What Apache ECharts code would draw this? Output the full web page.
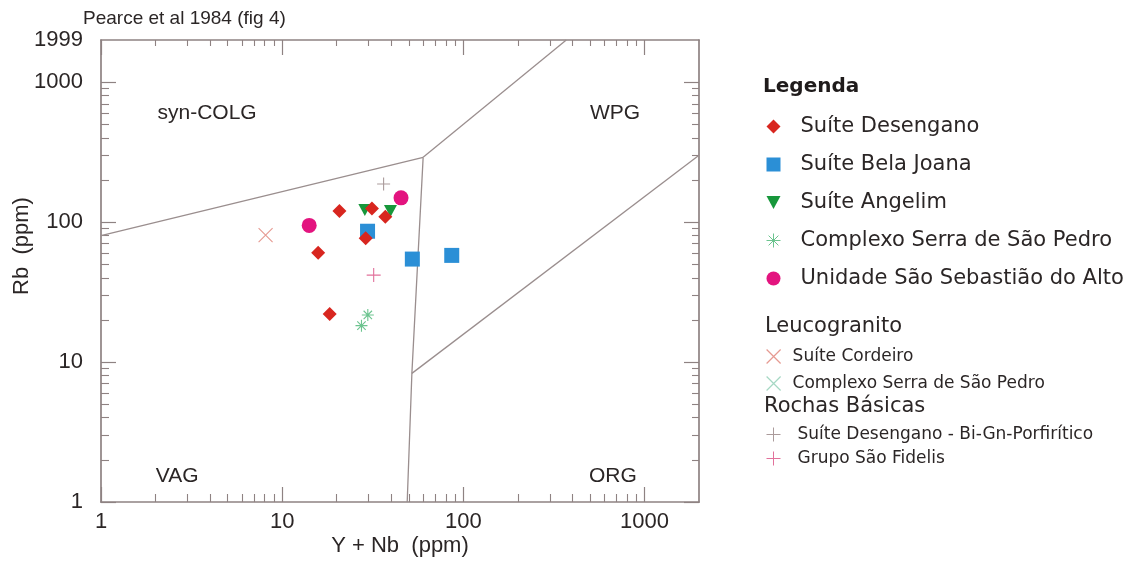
<!DOCTYPE html>
<html>
<head>
<meta charset="utf-8">
<script src="https://cdn.jsdelivr.net/npm/echarts@6/dist/echarts.min.js"></script>
<style>
  html, body { margin: 0; padding: 0; background: #ffffff; }
  #chart { width: 1139px; height: 562px; }
</style>
</head>
<body>
<div id="chart"></div>
<script>
// Rb versus (Y + Nb) discrimination diagram (ppm), granite suites
const desengano        = [[20.7, 120], [31.3, 125], [37.1, 109], [28.9, 76.5], [15.8, 60.4], [18.3, 22.0]];
const belaJoana        = [[29.6, 86], [52.3, 54.4], [86.3, 57.8]];
const angelim          = [[28.6, 122], [39.6, 120]];
const serraSaoPedro    = [[29.7, 21.7], [27.4, 18.2]];
const saoSebastiao     = [[14.1, 94.7], [45.3, 149]];
const cordeiro         = [[8.1, 80.7]];
const serraLeuco       = [];
const biGnPorfiritico  = [[36.3, 187]];
const saoFidelis       = [[32.0, 41.8]];

// tectonic field boundaries
const lineVagColg = [[1, 80], [60, 290]];
const lineColgWpg = [[60, 290], [370, 1999]];
const lineVagWpg  = [[60, 290], [52, 8.3], [49, 1]];
const lineWpgOrg  = [[52, 8.3], [1999, 300]];

// field names and where they sit
const fieldNames = ['syn-COLG', 'WPG', 'VAG', 'ORG'];
const fieldPos   = [[3.85, 598], [687, 600], [2.63, 1.53], [669, 1.53]];

// axis range and tick values
const axisMin = 1;
const axisMax = 1999;
const majorTicks = [1, 10, 100, 1000];
const minorTicks = [2, 3, 4, 5, 6, 7, 8, 9, 20, 30, 40, 50, 60, 70, 80, 90, 200, 300, 400, 500, 600, 700, 800, 900];

const legendMain  = ['Suíte Desengano', 'Suíte Bela Joana', 'Suíte Angelim', 'Complexo Serra de São Pedro', 'Unidade São Sebastião do Alto'];
const legendLeuco = ['Suíte Cordeiro', 'Complexo Serra de São Pedro (leucogranito)'];
const legendBasic = ['Suíte Desengano - Bi-Gn-Porfirítico', 'Grupo São Fidelis'];

const frameColor = '#8e8282';
const textColor = '#2b2626';
const plotFont = 'Liberation Sans';
const legendFont = 'DejaVu Sans';

const colCordeiro = '#e69a92';
const colSerraLeuco = '#a6d8c4';

const symAsterisk = 'path://M5,0L5,10M0,5L10,5M1.5,1.5L8.5,8.5M8.5,1.5L1.5,8.5';
const symCross    = 'path://M0,0L10,10M10,0L0,10';
const symPlus     = 'path://M5,0L5,10M0,5L10,5';
const symTriDown  = 'path://M0,0L12,0L6,11Z';

function axisDef(position, opts) {
  return Object.assign({
    type: 'log', logBase: 10, min: axisMin, max: axisMax, position: position,
    axisLine: { show: true, onZero: false, lineStyle: { color: frameColor, width: 1.7 } },
    axisTick: { show: true, inside: true, length: 15, customValues: majorTicks, lineStyle: { color: frameColor, width: 1.2 } },
    axisLabel: { show: false },
    splitLine: { show: false },
    minorTick: { show: false }
  }, opts || {});
}
const minorTickOpts = (len) => ({
  axisLine: { show: false },
  axisTick: { show: true, inside: true, length: len, customValues: minorTicks, lineStyle: { color: frameColor, width: 1.1 } }
});

function boundary(data) {
  return {
    type: 'line', data: data, xAxisIndex: 0, yAxisIndex: 0, symbol: 'none', silent: true,
    lineStyle: { color: '#9a8e8e', width: 1.3 }, z: 1, animation: false
  };
}

function markers(name, data, symbol, size, fill, stroke) {
  return {
    type: 'scatter', name: name, data: data, symbol: symbol, symbolSize: size, z: 3,
    itemStyle: stroke
      ? { color: 'rgba(0,0,0,0)', borderColor: stroke, borderWidth: 1.1, opacity: 1 }
      : { color: fill, opacity: 1 }
  };
}

const chart = echarts.init(document.getElementById('chart'), null, { renderer: 'canvas' });
chart.setOption({
  animation: false,
  backgroundColor: '#ffffff',
  title: {
    text: 'Pearce et al 1984 (fig 4)', left: 78, top: 4,
    textStyle: { fontFamily: plotFont, fontSize: 19, fontWeight: 'normal', color: textColor }
  },
  grid: { left: 101, right: 440, top: 40, bottom: 60, outerBoundsMode: 'none', containLabel: false },
  xAxis: [
    axisDef('bottom', {
      name: 'Y + Nb  (ppm)', nameLocation: 'middle', nameGap: 33, nameMoveOverlap: false,
      nameTextStyle: { fontFamily: plotFont, fontSize: 22, color: textColor },
      axisLabel: {
        show: true, margin: 9, fontFamily: plotFont, fontSize: 22, color: textColor,
        customValues: majorTicks,
        formatter: (v) => String(Math.round(v))
      }
    }),
    axisDef('top'),
    axisDef('bottom', minorTickOpts(8)),
    axisDef('top', minorTickOpts(6))
  ],
  yAxis: [
    axisDef('left', {
      name: 'Rb  (ppm)', nameLocation: 'middle', nameGap: 68, nameRotate: 90, nameMoveOverlap: false,
      nameTextStyle: { fontFamily: plotFont, fontSize: 22, color: textColor, padding: [0, 0, 0, 50] },
      axisLabel: {
        show: true, margin: 18, fontFamily: plotFont, fontSize: 22, color: textColor,
        customValues: majorTicks.concat([axisMax]),
        formatter: (v) => String(Math.round(v))
      }
    }),
    axisDef('right'),
    axisDef('left', minorTickOpts(8)),
    axisDef('right', minorTickOpts(7))
  ],
  legend: [
    {
      data: legendMain, orient: 'vertical', left: 766, top: 116, padding: 0,
      itemWidth: 14, itemHeight: 14, itemGap: 17, selectedMode: false,
      textStyle: { fontFamily: legendFont, fontSize: 21, lineHeight: 21, color: textColor, padding: [0, 0, 0, 15] },
      itemStyle: { borderWidth: 1 }
    },
    {
      data: [
        { name: legendLeuco[0], itemStyle: { color: 'rgba(0,0,0,0)', borderColor: colCordeiro, borderWidth: 1.2 } },
        { name: legendLeuco[1], itemStyle: { color: 'rgba(0,0,0,0)', borderColor: colSerraLeuco, borderWidth: 1.2 } }
      ],
      orient: 'vertical', left: 766, top: 348, padding: 0,
      itemWidth: 14, itemHeight: 14, itemGap: 10, selectedMode: false,
      formatter: (name) => name.replace(' (leucogranito)', ''),
      textStyle: { fontFamily: legendFont, fontSize: 17, lineHeight: 17, color: textColor, padding: [0, 0, 0, 7] }
    },
    {
      data: legendBasic, orient: 'vertical', left: 766, top: 426, padding: 0,
      itemWidth: 14, itemHeight: 14, itemGap: 7, selectedMode: false,
      textStyle: { fontFamily: legendFont, fontSize: 17, lineHeight: 17, color: textColor, padding: [0, 0, 0, 12] },
      itemStyle: { borderWidth: 1 }
    }
  ],
  graphic: [
    { type: 'text', x: 763, y: 87, style: { text: 'Legenda', fontFamily: legendFont, fontSize: 20, fontWeight: 'bold', fill: '#1f1b1b', verticalAlign: 'middle' } },
    { type: 'text', x: 765, y: 327, style: { text: 'Leucogranito', fontFamily: legendFont, fontSize: 21, fill: textColor, verticalAlign: 'middle' } },
    { type: 'text', x: 764, y: 407, style: { text: 'Rochas Básicas', fontFamily: legendFont, fontSize: 21, fill: textColor, verticalAlign: 'middle' } }
  ],
  series: [
    boundary(lineVagColg),
    boundary(lineColgWpg),
    boundary(lineVagWpg),
    boundary(lineWpgOrg),
    {
      type: 'scatter', name: 'fields', silent: true, symbolSize: 0, z: 2,
      itemStyle: { opacity: 1 },
      data: fieldNames.map((n, i) => ({ name: n, value: fieldPos[i] })),
      label: { show: true, position: 'inside', formatter: '{b}', fontFamily: plotFont, fontSize: 21, color: textColor }
    },
    markers('Suíte Cordeiro', cordeiro, symCross, 14, null, colCordeiro),
    markers('Complexo Serra de São Pedro (leucogranito)', serraLeuco, symCross, 14, null, colSerraLeuco),
    markers('Suíte Desengano - Bi-Gn-Porfirítico', biGnPorfiritico, symPlus, 13, null, '#ab9b9b'),
    markers('Grupo São Fidelis', saoFidelis, symPlus, 14, null, '#e2719b'),
    markers('Complexo Serra de São Pedro', serraSaoPedro, symAsterisk, 12, null, '#6cc48f'),
    markers('Unidade São Sebastião do Alto', saoSebastiao, 'circle', 15, '#e3147f'),
    markers('Suíte Angelim', angelim, symTriDown, [13, 12], '#17973b'),
    markers('Suíte Bela Joana', belaJoana, 'rect', 15, '#2b8fd6'),
    markers('Suíte Desengano', desengano, 'diamond', 14, '#d8261f')
  ]
});
</script>
</body>
</html>
